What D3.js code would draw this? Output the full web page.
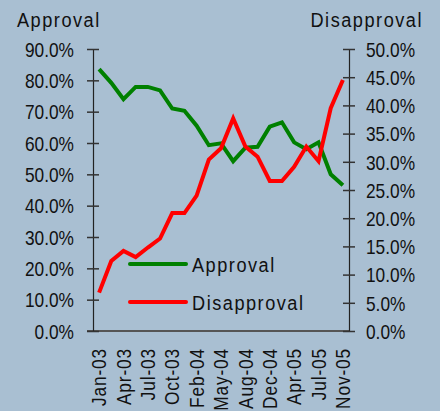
<!DOCTYPE html>
<html>
<head>
<meta charset="utf-8">
<script src="https://cdn.jsdelivr.net/npm/d3@7/dist/d3.min.js"></script>
<style>
  html, body { margin: 0; padding: 0; background: #a9bfd2; }
  svg { display: block; }
  text { font-family: "Liberation Sans", Arial, sans-serif; fill: #111; }
</style>
</head>
<body>
<svg id="chart" width="440" height="411"></svg>
<script>
// ── Data ──────────────────────────────────────────────────────────────────────
const MONTHS = ['Jan-03', 'Mar-03', 'Apr-03', 'May-03', 'Jul-03', 'Sep-03', 'Oct-03',
                'Dec-03', 'Feb-04', 'Apr-04', 'May-04', 'Jun-04', 'Aug-04', 'Oct-04',
                'Dec-04', 'Feb-05', 'Apr-05', 'Jun-05', 'Jul-05', 'Sep-05', 'Nov-05'];
const APPROVAL    = [83.6, 79.2, 74.0, 77.9, 77.9, 76.8, 71.0, 70.3, 65.5, 59.3, 59.9,
                     54.2, 58.5, 58.8, 65.2, 66.6, 60.2, 58.0, 60.2, 50.0, 46.5];
const DISAPPROVAL = [6.8, 12.4, 14.2, 13.1, 14.8, 16.4, 20.9, 20.9, 24.0, 30.4, 32.4,
                     37.7, 32.7, 30.9, 26.6, 26.6, 29.1, 32.7, 30.1, 39.5, 44.5];
const LEFT_TICKS  = [0, 10, 20, 30, 40, 50, 60, 70, 80, 90];
const RIGHT_TICKS = [0, 5, 10, 15, 20, 25, 30, 35, 40, 45, 50];

const GREEN = '#008000', RED = '#ff0000';
const SX = 0.865;   // horizontal squeeze to mimic the condensed face

// ── Scales ────────────────────────────────────────────────────────────────────
const m = { left: 93, right: 349, top: 49, bottom: 331 };
const svg = d3.select('#chart');

const x = d3.scaleBand().domain(MONTHS).range([m.left, m.right]);
const cx = d => x(d) + x.bandwidth() / 2;
const yL = d3.scaleLinear().domain([0, 90]).range([m.bottom, m.top]);
const yR = d3.scaleLinear().domain([0, 50]).range([m.bottom, m.top]);

// condensed text: place at (px, py) then squeeze
function squeezed(sel, px, py, extra = '') {
    return sel.attr('x', null).attr('y', null)
        .attr('transform', `translate(${px},${py}) ${extra} scale(${SX},1)`);
}

// ── Axes ──────────────────────────────────────────────────────────────────────
svg.append('line')
    .attr('x1', m.left - 6).attr('x2', m.right)
    .attr('y1', m.bottom).attr('y2', m.bottom)
    .attr('stroke', '#555').attr('stroke-width', 2);

const left = svg.append('g')
    .attr('transform', `translate(${m.left},0)`)
    .call(d3.axisLeft(yL).tickValues(LEFT_TICKS).tickSize(6)
        .tickPadding(13).tickFormat(d => d.toFixed(1) + '%'));
left.selectAll('.tick line').attr('x1', -6).attr('x2', 6);

const right = svg.append('g')
    .attr('transform', `translate(${m.right},0)`)
    .call(d3.axisRight(yR).tickValues(RIGHT_TICKS).tickSize(6)
        .tickPadding(11).tickFormat(d => d.toFixed(1) + '%'));
right.selectAll('.tick line').attr('x1', -6).attr('x2', 6);

[left, right].forEach(g => {
    g.select('.domain').attr('stroke', '#222').attr('stroke-width', 1.2);
    g.selectAll('.tick line').attr('stroke', '#333').attr('stroke-width', 1.5);
    g.selectAll('.tick text')
        .attr('font-size', 20)
        .attr('font-family', null)
        .attr('fill', '#111')
        .attr('dy', '0.36em')
        .each(function () {
            const t = d3.select(this);
            squeezed(t, +t.attr('x'), 0);
        });
});

// x labels (every other month)
svg.append('g')
    .selectAll('text')
    .data(MONTHS.filter((_, i) => i % 2 === 0))
    .join('text')
    .each(function (d) { squeezed(d3.select(this), cx(d), 348, 'rotate(-90)'); })
    .attr('text-anchor', 'end')
    .attr('dy', '0.36em')
    .attr('font-size', 20)
    .attr('letter-spacing', 1)
    .text(d => d);

// Axis titles
squeezed(svg.append('text'), 17, 27)
    .attr('font-size', 21).attr('letter-spacing', 1.75)
    .text('Approval');
squeezed(svg.append('text'), 423, 27)
    .attr('text-anchor', 'end')
    .attr('font-size', 21).attr('letter-spacing', 1.75)
    .text('Disapproval');

// ── Lines ─────────────────────────────────────────────────────────────────────
const lineL = d3.line().x((d, i) => cx(MONTHS[i])).y(d => yL(d));
const lineR = d3.line().x((d, i) => cx(MONTHS[i])).y(d => yR(d));

svg.append('path')
    .attr('d', lineL(APPROVAL))
    .attr('fill', 'none').attr('stroke', GREEN)
    .attr('stroke-width', 4);

svg.append('path')
    .attr('d', lineR(DISAPPROVAL))
    .attr('fill', 'none').attr('stroke', RED)
    .attr('stroke-width', 4);

// ── Legend ────────────────────────────────────────────────────────────────────
const legend = svg.append('g').attr('transform', 'translate(130,264)');
[['Approval', GREEN], ['Disapproval', RED]].forEach(([name, col], i) => {
    const g = legend.append('g').attr('transform', `translate(0,${i * 38})`);
    g.append('line')
        .attr('x1', 0).attr('x2', 56)
        .attr('stroke', col).attr('stroke-width', 4).attr('stroke-linecap', 'round');
    squeezed(g.append('text'), 62, 8)
        .attr('font-size', 21).attr('letter-spacing', 1.75)
        .text(name);
});
</script>
</body>
</html>
